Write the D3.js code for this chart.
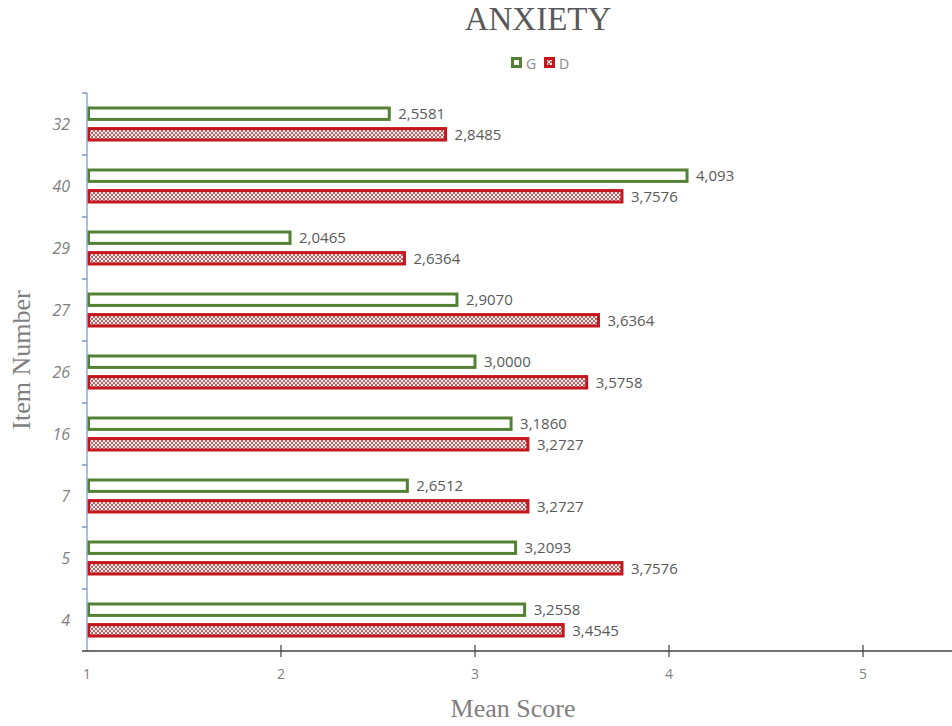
<!DOCTYPE html>
<html>
<head>
<meta charset="utf-8">
<script src="https://cdn.jsdelivr.net/npm/d3@7"></script>
<style>
  html, body { margin: 0; padding: 0; background: #fff; }
  svg { display: block; }
</style>
</head>
<body>
<svg id="chart" width="952" height="726"></svg>
<script>
const categories = ["32", "40", "29", "27", "26", "16", "7", "5", "4"];
const seriesNames = ["G", "D"];
const valuesG = [2.5581, 4.093, 2.0465, 2.9070, 3.0000, 3.1860, 2.6512, 3.2093, 3.2558];
const valuesD = [2.8485, 3.7576, 2.6364, 3.6364, 3.5758, 3.2727, 3.2727, 3.7576, 3.4545];
const labelsG = ["2,5581", "4,093", "2,0465", "2,9070", "3,0000", "3,1860", "2,6512", "3,2093", "3,2558"];
const labelsD = ["2,8485", "3,7576", "2,6364", "3,6364", "3,5758", "3,2727", "3,2727", "3,7576", "3,4545"];
const xTicks = [1, 2, 3, 4, 5];

const svg = d3.select("#chart");
const gray = "#595959";
const green = "#548235";
const red = "#c4161c";

const defs = svg.append("defs");
const pat = defs.append("pattern").attr("id", "hatch").attr("patternUnits", "userSpaceOnUse")
  .attr("width", 4).attr("height", 4);
pat.append("rect").attr("width", 4).attr("height", 4).attr("fill", "#f4e6e6");
pat.append("path").attr("d", "M0,0 L4,4 M4,0 L0,4").attr("stroke", "#b56a6a").attr("stroke-width", 1);

const x = d3.scaleLinear().domain([1, 5]).range([87, 863]);
const y0 = d3.scaleBand().domain(categories).range([93, 651]).padding(0);
const y1 = d3.scaleBand().domain(seriesNames).range([13.5, 48.5]).paddingInner(0.3);

const data = categories.map((c, i) => ({
  cat: c,
  vals: [
    { s: "G", v: valuesG[i], label: labelsG[i] },
    { s: "D", v: valuesD[i], label: labelsD[i] }
  ]
}));

// Title
svg.append("text").attr("x", 538).attr("y", 30).attr("text-anchor", "middle")
  .attr("font-family", "Liberation Serif, Times New Roman, serif").attr("font-size", 33)
  .attr("fill", gray).text("ANXIETY");

// Legend
const leg = svg.append("g").attr("transform", "translate(511,58)");
leg.append("rect").attr("x", 1.5).attr("y", 0.5).attr("width", 8).attr("height", 8)
  .attr("fill", "#fff").attr("stroke", green).attr("stroke-width", 3);
leg.append("text").attr("x", 15).attr("y", 10.5).attr("font-family", "Open Sans, sans-serif")
  .attr("font-size", 14).attr("fill", "#8a8a8a").text("G");
leg.append("rect").attr("x", 34.5).attr("y", 0.5).attr("width", 8).attr("height", 8)
  .attr("fill", "url(#hatch)").attr("stroke", red).attr("stroke-width", 3);
leg.append("text").attr("x", 48).attr("y", 10.5).attr("font-family", "Open Sans, sans-serif")
  .attr("font-size", 14).attr("fill", "#8a8a8a").text("D");

// Bars
const groups = svg.append("g").selectAll("g").data(data).join("g")
  .attr("transform", d => `translate(0,${y0(d.cat)})`);

groups.selectAll("rect").data(d => d.vals).join("rect")
  .attr("x", x(1) + 1.5)
  .attr("y", d => y1(d.s) + 1.5)
  .attr("width", d => x(d.v) - x(1) - 1.5)
  .attr("height", y1.bandwidth() - 3)
  .attr("fill", d => d.s === "G" ? "#fff" : "url(#hatch)")
  .attr("stroke", d => d.s === "G" ? green : red)
  .attr("stroke-width", 3);

groups.selectAll("text").data(d => d.vals).join("text")
  .attr("x", d => x(d.v) + 9)
  .attr("y", d => y1(d.s) + y1.bandwidth() / 2)
  .attr("dy", "0.35em")
  .attr("font-family", "Open Sans, sans-serif").attr("font-size", 15)
  .attr("fill", gray)
  .text(d => d.label);

// Y axis
svg.append("line").attr("x1", 87).attr("x2", 87).attr("y1", 93).attr("y2", 651)
  .attr("stroke", "#8faadc").attr("stroke-width", 1.5);
const bounds = categories.map(c => y0(c));
svg.append("g").selectAll("line").data(bounds).join("line")
  .attr("x1", 82).attr("x2", 87).attr("y1", d => d).attr("y2", d => d)
  .attr("stroke", "#7f93b8").attr("stroke-width", 1.5);
svg.append("g").selectAll("text").data(categories).join("text")
  .attr("x", 70).attr("y", d => y0(d) + y0.bandwidth() / 2).attr("dy", "0.35em")
  .attr("text-anchor", "end").attr("font-style", "italic")
  .attr("font-family", "Open Sans, sans-serif").attr("font-size", 16)
  .attr("fill", "#7f7f7f").text(d => d);

// X axis
svg.append("line").attr("x1", 82).attr("x2", 952).attr("y1", 651).attr("y2", 651)
  .attr("stroke", "#404040").attr("stroke-width", 1.5);
const xAxis = svg.append("g");
xAxis.selectAll("line").data(xTicks.slice(1)).join("line")
  .attr("x1", d => x(d)).attr("x2", d => x(d)).attr("y1", 645).attr("y2", 657)
  .attr("stroke", "#404040").attr("stroke-width", 1.2);
xAxis.selectAll("text").data(xTicks).join("text")
  .attr("x", d => x(d)).attr("y", 679).attr("text-anchor", "middle")
  .attr("font-family", "Open Sans, sans-serif").attr("font-size", 14)
  .attr("fill", "#7f7f7f").text(d => d);

// Axis titles
svg.append("text").attr("x", 513).attr("y", 717).attr("text-anchor", "middle")
  .attr("font-family", "Liberation Serif, Times New Roman, serif").attr("font-size", 26)
  .attr("fill", "#7f7f7f").text("Mean Score");
svg.append("text").attr("transform", "translate(30,360) rotate(-90)").attr("text-anchor", "middle")
  .attr("font-family", "Liberation Serif, Times New Roman, serif").attr("font-size", 26)
  .attr("fill", "#7f7f7f").text("Item Number");
</script>
</body>
</html>
